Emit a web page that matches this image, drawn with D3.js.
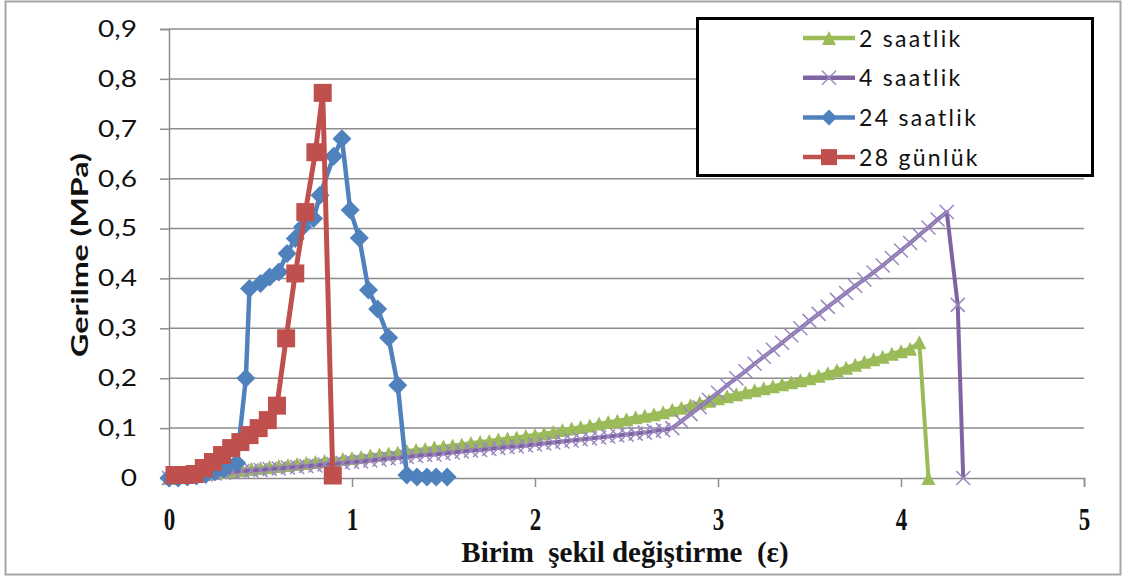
<!DOCTYPE html>
<html><head><meta charset="utf-8">
<script src="https://cdn.jsdelivr.net/npm/d3@7"></script>
<style>body{margin:0;background:#fff}svg{display:block}</style>
</head><body>
<svg id="c" width="1124" height="577"></svg>
<script>
// ---- data ----
const seriesNames = ["2 saatlik", "4 saatlik", "24 saatlik", "28 günlük"];
const yTickLabels = ["0", "0,1", "0,2", "0,3", "0,4", "0,5", "0,6", "0,7", "0,8", "0,9"];
const xTickLabels = ["0", "1", "2", "3", "4", "5"];

const x2h = [0.00,0.05,0.10,0.15,0.20,0.25,0.30,0.35,0.40,0.45,0.50,0.55,0.60,0.65,0.70,0.75,0.80,0.85,0.90,0.95,
  1.00,1.05,1.10,1.15,1.20,1.25,1.30,1.35,1.40,1.45,1.50,1.55,1.60,1.65,1.70,1.75,1.80,1.85,1.90,1.95,
  2.00,2.05,2.10,2.15,2.20,2.25,2.30,2.35,2.40,2.45,2.50,2.55,2.60,2.65,2.70,2.75,2.80,2.85,2.90,2.95,
  3.00,3.05,3.10,3.15,3.20,3.25,3.30,3.35,3.40,3.45,3.50,3.55,3.60,3.65,3.70,3.75,3.80,3.85,3.90,3.95,
  4.00,4.05,4.10,4.15];
const y2h = [0.000,0.002,0.004,0.006,0.008,0.010,0.012,0.014,0.016,0.018,0.020,0.022,0.024,0.026,0.028,0.030,0.032,0.034,0.036,0.038,
  0.040,0.042,0.045,0.047,0.049,0.051,0.054,0.056,0.058,0.061,0.063,0.065,0.067,0.070,0.072,0.074,0.077,0.079,0.081,0.084,
  0.086,0.089,0.092,0.096,0.099,0.102,0.105,0.109,0.112,0.115,0.118,0.122,0.125,0.128,0.132,0.137,0.141,0.146,0.151,0.155,
  0.160,0.164,0.168,0.172,0.176,0.180,0.184,0.188,0.192,0.196,0.200,0.205,0.210,0.216,0.221,0.227,0.233,0.238,0.243,0.249,
  0.254,0.259,0.272,0.000];

const x4h = [0.00,0.05,0.10,0.15,0.20,0.25,0.30,0.35,0.40,0.45,0.50,0.55,0.60,0.65,0.70,0.75,0.80,0.85,0.90,0.95,
  1.00,1.05,1.10,1.15,1.20,1.25,1.30,1.35,1.40,1.45,1.50,1.55,1.60,1.65,1.70,1.75,1.80,1.85,1.90,1.95,
  2.00,2.05,2.10,2.15,2.20,2.25,2.30,2.35,2.40,2.45,2.50,2.55,2.60,2.65,2.70,2.75,2.80,2.85,2.90,2.95,
  3.00,3.05,3.10,3.15,3.20,3.25,3.30,3.35,3.40,3.45,3.50,3.55,3.60,3.65,3.70,3.75,3.80,3.85,3.90,3.95,
  4.00,4.05,4.10,4.15,4.20,4.25,4.31,4.34];
const y4h = [0.000,0.002,0.003,0.005,0.007,0.009,0.010,0.012,0.014,0.015,0.016,0.018,0.019,0.021,0.022,0.024,0.025,0.027,0.028,0.030,
  0.032,0.033,0.035,0.037,0.039,0.040,0.042,0.044,0.046,0.047,0.049,0.051,0.053,0.055,0.056,0.058,0.060,0.062,0.063,0.065,
  0.067,0.069,0.071,0.073,0.075,0.077,0.079,0.081,0.083,0.085,0.087,0.089,0.091,0.094,0.096,0.100,0.114,0.128,0.142,0.157,
  0.171,0.186,0.200,0.214,0.229,0.243,0.257,0.271,0.286,0.300,0.315,0.329,0.343,0.357,0.371,0.385,0.398,0.412,0.426,0.441,
  0.456,0.471,0.487,0.502,0.518,0.533,0.347,0.000];

const x24h = [0.00,0.05,0.10,0.15,0.20,0.25,0.30,0.37,0.42,0.44,0.50,0.55,0.60,0.645,0.69,0.73,0.79,0.825,0.90,0.945,
  0.99,1.04,1.09,1.14,1.20,1.25,1.30,1.355,1.41,1.46,1.52];
const y24h = [0.000,0.000,0.002,0.004,0.007,0.012,0.018,0.030,0.200,0.380,0.390,0.403,0.413,0.450,0.480,0.503,0.520,0.567,0.645,0.680,
  0.537,0.481,0.377,0.339,0.281,0.186,0.006,0.002,0.002,0.002,0.002];

const x28g = [0.03,0.09,0.14,0.19,0.24,0.29,0.34,0.39,0.44,0.49,0.54,0.59,0.64,0.69,0.745,0.80,0.84,0.895];
const y28g = [0.006,0.006,0.008,0.020,0.032,0.046,0.060,0.072,0.086,0.100,0.116,0.145,0.280,0.410,0.533,0.653,0.772,0.005];

const seriesX = [x2h, x4h, x24h, x28g];
const seriesY = [y2h, y4h, y24h, y28g];
const colors = ["#9BBB59", "#8064A2", "#4F81BD", "#C0504D"];
const markers = ["triangle", "cross", "diamond", "square"];
const markerSize = [14, 14, 19, 18];
const lineWidth = [4, 4, 4.5, 5];

// ---- layout ----
const svg = d3.select("#c");
const L = 169, R = 1084, T = 29, B = 478;
const x = d3.scaleLinear().domain([0, 5]).range([L, R]);
const y = d3.scaleLinear().domain([0, 0.9]).range([B, T]);

svg.append("rect").attr("x", 5.5).attr("y", 1.5).attr("width", 1115).attr("height", 573)
  .attr("fill", "#fff").attr("stroke", "#A6A6A6").attr("stroke-width", 2);

// gridlines
const yTicks = d3.range(10).map(i => i / 10);
svg.append("g").selectAll("line").data(yTicks.slice(1)).join("line")
  .attr("x1", L).attr("x2", R).attr("y1", d => y(d)).attr("y2", d => y(d))
  .attr("stroke", "#8C8C8C").attr("stroke-width", 1.5);

// y axis
const ya = svg.append("g").attr("transform", `translate(${L},0)`)
  .call(d3.axisLeft(y).tickValues(yTicks).tickSize(9).tickPadding(21).tickFormat((d, i) => yTickLabels[i]));
ya.select(".domain").attr("stroke", "#8C8C8C").attr("stroke-width", 1.5);
ya.selectAll(".tick line").attr("stroke", "#8C8C8C").attr("stroke-width", 1.5);
const ysx = 1.22;
ya.selectAll("text").attr("font-family", "Lato, 'Open Sans', sans-serif").attr("font-size", 23).attr("fill", "#111")
  .attr("x", -32 / ysx).attr("transform", `scale(${ysx},1)`);

// x axis
const xa = svg.append("g").attr("transform", `translate(0,${B})`)
  .call(d3.axisBottom(x).tickValues([0,1,2,3,4,5]).tickSize(9).tickPadding(20).tickFormat((d, i) => xTickLabels[i]));
xa.select(".domain").attr("stroke", "#8C8C8C").attr("stroke-width", 1.5);
xa.selectAll(".tick line").attr("stroke", "#8C8C8C").attr("stroke-width", 1.5);
const xsy = 1.35;
xa.selectAll("text").attr("font-family", "'Liberation Serif', 'Times New Roman', serif")
  .attr("font-size", 23).attr("font-weight", "bold").attr("fill", "#111")
  .attr("dy", null).attr("y", 52 / xsy).attr("transform", `scale(1,${xsy})`);

// axis titles
svg.append("text").attr("transform", "translate(88,255) rotate(-90) scale(1.4,1)").attr("text-anchor", "middle")
  .attr("font-family", "Lato, 'Open Sans', sans-serif").attr("font-weight", "bold").attr("font-size", 23)
  .attr("fill", "#111").text("Gerilme (MPa)");
svg.append("text").attr("x", 625).attr("y", 562).attr("text-anchor", "middle")
  .attr("font-family", "'Liberation Serif', 'Times New Roman', serif").attr("font-weight", "bold").attr("font-size", 29)
  .attr("fill", "#111").attr("xml:space", "preserve").text("Birim  şekil değiştirme  (ε)");

// marker drawing
function drawMarker(g, type, color, size) {
  if (type === "triangle") {
    const h = size;
    g.append("path").attr("d", `M0,${-h/2}L${h/2},${h/2}L${-h/2},${h/2}Z`).attr("fill", color);
  } else if (type === "cross") {
    const s = size / 2;
    g.append("path").attr("d", `M${-s},${-s}L${s},${s}M${-s},${s}L${s},${-s}`)
      .attr("stroke", "#9C88C0").attr("stroke-width", 1.5).attr("fill", "none");
  } else if (type === "diamond") {
    const s = size / 2;
    g.append("path").attr("d", `M0,${-s}L${s},0L0,${s}L${-s},0Z`).attr("fill", color);
  } else {
    const s = size / 2;
    g.append("rect").attr("x", -s).attr("y", -s).attr("width", size).attr("height", size).attr("fill", color);
  }
}

const line = d3.line().x(d => x(d[0])).y(d => y(d[1]));
const plot = svg.append("g");
seriesNames.forEach((name, si) => {
  const pts = seriesX[si].map((v, i) => [v, seriesY[si][i]]);
  const g = plot.append("g");
  g.append("path").datum(pts).attr("d", line).attr("fill", "none")
    .attr("stroke", colors[si]).attr("stroke-width", lineWidth[si]).attr("stroke-linejoin", "round");
  g.selectAll("g.m").data(pts).join("g").attr("class", "m")
    .attr("transform", d => `translate(${x(d[0])},${y(d[1])})`)
    .each(function () { drawMarker(d3.select(this), markers[si], colors[si], markerSize[si]); });
});

// legend
const lg = svg.append("g");
lg.append("rect").attr("x", 697.5).attr("y", 18.5).attr("width", 395).attr("height", 157)
  .attr("fill", "#fff").attr("stroke", "#000").attr("stroke-width", 3);
seriesNames.forEach((name, si) => {
  const cy = 38 + si * 39.7;
  lg.append("line").attr("x1", 803).attr("x2", 855).attr("y1", cy).attr("y2", cy)
    .attr("stroke", colors[si]).attr("stroke-width", 4.5);
  const mg = lg.append("g").attr("transform", `translate(829,${cy})`);
  drawMarker(mg, markers[si], colors[si], [14, 14, 16, 16][si]);
  lg.append("text").attr("x", 859).attr("y", cy + 8.5).attr("font-family", "Lato, 'Open Sans', sans-serif")
    .attr("font-size", 23).attr("fill", "#111").attr("letter-spacing", 2.3).text(name);
});
</script>
</body></html>
